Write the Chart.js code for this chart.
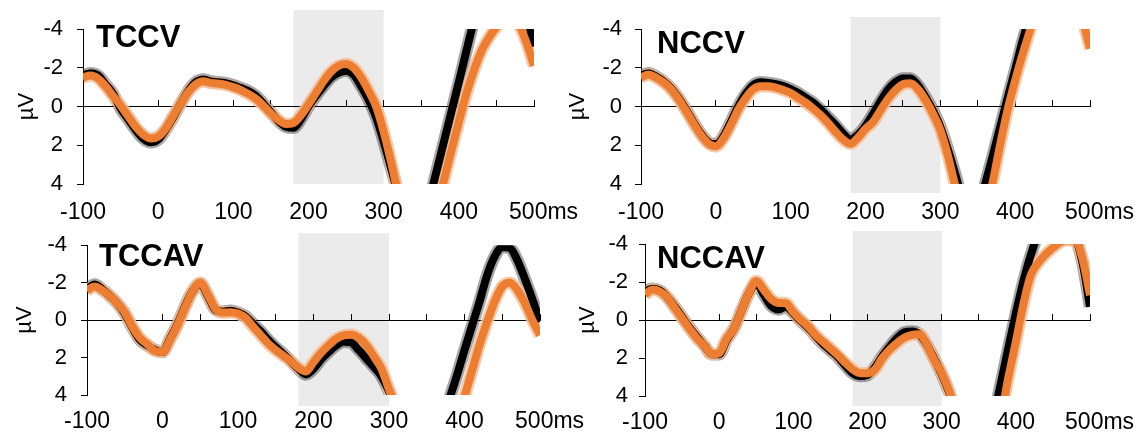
<!DOCTYPE html>
<html>
<head>
<meta charset="utf-8">
<script src="https://cdn.jsdelivr.net/npm/chart.js@4.4.1/dist/chart.umd.min.js"></script>
<style>
  body { margin: 0; background: #fff; width: 1146px; height: 436px; overflow: hidden; position: relative; font-family: "Liberation Sans", Arial, sans-serif; }
  canvas { position: absolute; }
  .name { position: absolute; font-weight: bold; font-size: 31px; line-height: 31px; color: #000; white-space: nowrap; }
</style>
</head>
<body>
<canvas id="tccv" width="580" height="230" style="left:0;top:0;width:580px;height:230px"></canvas>
<canvas id="nccv" width="593" height="230" style="left:553px;top:0;width:593px;height:230px"></canvas>
<canvas id="tccav" width="600" height="218" style="left:0;top:218px;width:600px;height:218px"></canvas>
<canvas id="nccav" width="593" height="218" style="left:553px;top:218px;width:593px;height:218px"></canvas>
<div class="name" style="left:96px;top:21px">TCCV</div>
<div class="name" style="left:657px;top:27px">NCCV</div>
<div class="name" style="left:99px;top:240px">TCCAV</div>
<div class="name" style="left:657px;top:242px">NCCAV</div>
<script>
// time points (ms), one every 10 ms
const times = [-100, -90, -80, -70, -60, -50, -40, -30, -20, -10,
    0, 10, 20, 30, 40, 50, 60, 70, 80, 90,
    100, 110, 120, 130, 140, 150, 160, 170, 180, 190,
    200, 210, 220, 230, 240, 250, 260, 270, 280, 290,
    300, 310, 320, 330, 340, 350, 360, 370, 380, 390,
    400, 410, 420, 430, 440, 450, 460, 470, 480, 490, 500];

const yTicks = [-4, -2, 0, 2, 4];
const shadeWindow = [180, 300];

// amplitudes in µV
const tccvBlack = [-1.6, -1.72, -1.6, -1.15, -0.65, 0.1, 0.65, 1.2, 1.65, 1.85,
    1.7, 1.2, 0.55, -0.15, -0.8, -1.25, -1.4, -1.3, -1.25, -1.2,
    -1.1, -0.95, -0.8, -0.55, -0.15, 0.3, 0.75, 1.05, 1.1, 0.65,
    0.0, -0.55, -1.05, -1.5, -1.75, -1.85, -1.65, -1.05, -0.35, 0.55,
    1.8, 3.2, 4.6, 5.9, 6.4, 6.0, 4.9, 3.4, 1.85, 0.3,
    -1.25, -2.85, -4.4, -5.6, -6.5, -7.0, -7.1, -6.8, -6.0, -4.8, -3.1];
const tccvOrange = [-1.5, -1.6, -1.45, -1.05, -0.55, -0.05, 0.5, 1.05, 1.45, 1.65,
    1.55, 1.15, 0.5, -0.15, -0.75, -1.15, -1.3, -1.22, -1.18, -1.12,
    -1.0, -0.85, -0.65, -0.4, -0.05, 0.35, 0.7, 0.9, 0.85, 0.45,
    -0.1, -0.7, -1.3, -1.8, -2.1, -2.2, -2.0, -1.5, -0.8, 0.0,
    1.3, 2.9, 4.6, 6.0, 6.7, 6.8, 6.4, 5.4, 3.85, 2.3,
    0.8, -0.65, -1.85, -2.85, -3.55, -4.1, -4.45, -4.5, -4.2, -3.3, -2.1];

const nccvBlack = [-1.6, -1.72, -1.55, -1.3, -0.95, -0.45, 0.15, 0.8, 1.4, 1.85,
    1.95, 1.55, 0.8, 0.0, -0.65, -1.1, -1.25, -1.22, -1.15, -1.05,
    -0.9, -0.7, -0.45, -0.2, 0.15, 0.55, 0.95, 1.4, 1.7, 1.45,
    1.0, 0.4, -0.25, -0.85, -1.25, -1.45, -1.45, -1.1, -0.5, 0.2,
    1.05, 2.2, 3.5, 4.9, 5.7, 5.4, 4.0, 2.55, 1.05, -0.45,
    -1.9, -3.4, -4.7, -5.9, -6.8, -7.4, -7.6, -7.5, -7.1, -6.5, -5.6];
const nccvOrange = [-1.5, -1.65, -1.5, -1.25, -0.9, -0.4, 0.2, 0.85, 1.45, 1.9,
    2.05, 1.65, 0.95, 0.15, -0.45, -0.9, -1.05, -1.05, -0.98, -0.85,
    -0.7, -0.45, -0.2, 0.1, 0.45, 0.85, 1.3, 1.7, 1.92, 1.6,
    1.15, 0.8, 0.2, -0.4, -0.85, -1.15, -1.2, -0.9, -0.35, 0.35,
    1.2, 2.5, 4.1, 5.5, 6.4, 6.5, 5.6, 3.9, 1.95, 0.15,
    -1.35, -2.7, -3.95, -5.1, -6.0, -6.6, -7.0, -6.9, -6.0, -4.5, -3.0];

const tccavBlack = [-1.65, -1.9, -1.65, -1.3, -0.9, -0.35, 0.4, 1.05, 1.35, 1.6,
    1.7, 1.0, 0.2, -0.75, -1.55, -1.95, -1.3, -0.55, -0.45, -0.5,
    -0.4, -0.2, 0.2, 0.6, 1.05, 1.45, 1.8, 2.2, 2.6, 2.9,
    2.6, 2.1, 1.7, 1.35, 1.15, 1.2, 1.6, 2.05, 2.5, 3.0,
    3.8, 4.7, 5.5, 6.0, 6.2, 6.2, 6.0, 5.4, 4.2, 2.95,
    1.6, 0.3, -1.0, -2.4, -3.4, -3.9, -3.85, -3.2, -2.2, -1.1, 0.1];
const tccavOrange = [-1.6, -1.8, -1.6, -1.3, -0.9, -0.4, 0.35, 0.95, 1.3, 1.65,
    1.7, 1.05, 0.25, -0.7, -1.55, -2.0, -1.35, -0.6, -0.4, -0.42,
    -0.35, -0.12, 0.35, 0.8, 1.25, 1.6, 1.9, 2.2, 2.55, 2.75,
    2.25, 1.75, 1.35, 1.0, 0.82, 0.78, 0.95, 1.35, 1.95, 2.6,
    3.7, 4.8, 5.6, 6.2, 6.6, 6.8, 6.8, 6.6, 6.3, 5.4,
    4.1, 2.7, 1.3, 0.1, -1.0, -1.8, -2.0, -1.6, -0.9, 0.0, 0.8];

const nccavBlack = [-1.5, -1.65, -1.55, -1.2, -0.7, -0.15, 0.4, 0.9, 1.35, 1.8,
    1.8, 1.05, 0.45, -0.5, -1.4, -1.95, -1.35, -0.75, -0.55, -0.7,
    -0.35, 0.05, 0.4, 0.85, 1.25, 1.6, 1.95, 2.4, 2.8, 2.95,
    2.9, 2.5, 1.9, 1.4, 0.95, 0.65, 0.6, 0.75, 1.3, 2.05,
    2.85, 3.8, 5.0, 5.8, 6.2, 6.2, 5.8, 5.0, 3.3, 1.45,
    -0.35, -2.0, -3.4, -4.5, -5.1, -5.3, -5.3, -5.0, -4.4, -3.0, -0.7];
const nccavOrange = [-1.35, -1.6, -1.5, -1.2, -0.65, -0.1, 0.45, 0.95, 1.35, 1.8,
    1.75, 1.0, 0.45, -0.5, -1.4, -2.05, -1.6, -1.1, -0.9, -0.88,
    -0.4, 0.0, 0.35, 0.8, 1.15, 1.5, 1.85, 2.25, 2.6, 2.8,
    2.8, 2.6, 2.0, 1.55, 1.2, 0.92, 0.78, 0.75, 1.3, 2.1,
    2.8, 3.75, 5.0, 5.9, 6.4, 6.6, 6.6, 6.2, 5.0, 3.0,
    1.15, -0.8, -2.35, -3.0, -3.45, -3.8, -4.1, -4.2, -4.15, -3.2, -1.3];

const orange = '#ed7d31';
const orangeBand = 'rgba(246, 190, 150, 0.85)';
const blackBand = 'rgba(0, 0, 0, 0.35)';

// gray time window, drawn before the axes so the zero line stays on top
const shadePlugin = {
    id: 'shade',
    beforeDraw(chart, args, opts) {
        const {ctx, chartArea, scales} = chart;
        const left = scales.x.getPixelForValue(shadeWindow[0]);
        const right = scales.x.getPixelForValue(shadeWindow[1]);
        ctx.save();
        ctx.fillStyle = '#ebebeb';
        ctx.fillRect(left, chartArea.top - opts.above, right - left,
            chartArea.bottom - chartArea.top + opts.above + opts.below);
        ctx.restore();
    }
};

function points(values) {
    return times.map((t, i) => ({x: t, y: values[i]}));
}

// keep the plot area where the layout padding puts it
function noLabelPadding(s) {
    s.paddingLeft = 0;
    s.paddingRight = 0;
}

function drawPanel(id, black, orangeVals, box) {
    const ctx = document.getElementById(id).getContext('2d');
    return new Chart(ctx, {
        type: 'line',
        data: {
            datasets: [
                {data: points(orangeVals), borderColor: orange, borderWidth: 8},
                {data: points(black), borderColor: '#000', borderWidth: 8},
                {data: points(orangeVals), borderColor: orangeBand, borderWidth: 12.5},
                {data: points(black), borderColor: blackBand, borderWidth: 12.5}
            ]
        },
        options: {
            responsive: false,
            animation: false,
            layout: {padding: {left: 0, right: box.right, top: box.top, bottom: 0}},
            elements: {
                point: {radius: 0},
                line: {cubicInterpolationMode: 'monotone', borderCapStyle: 'butt', borderJoinStyle: 'round', fill: false}
            },
            datasets: {line: {clip: 0}},
            plugins: {
                legend: {display: false},
                tooltip: {enabled: false},
                shade: {above: box.above, below: box.below}
            },
            scales: {
                x: {
                    type: 'linear',
                    min: -100,
                    max: 500,
                    position: 'bottom',
                    grid: {display: false, drawTicks: false},
                    border: {display: false},
                    ticks: {
                        stepSize: 100,
                        autoSkip: false,
                        padding: box.xPad,
                        color: '#000',
                        maxRotation: 0,
                        font: {family: 'Liberation Sans', size: 23},
                        // the unit sits a little to the right of the last tick
                        callback: v => v === 500 ? '   500ms' : String(v)
                    },
                    afterFit: s => { s.height = box.xh; noLabelPadding(s); }
                },
                x0: {
                    axis: 'x',
                    type: 'linear',
                    min: -100,
                    max: 500,
                    position: {y: 0},
                    grid: {drawOnChartArea: false, drawTicks: true, tickLength: -7, color: '#000', lineWidth: 1},
                    border: {display: true, color: '#000', width: 1},
                    ticks: {display: false, stepSize: 50, autoSkip: false},
                    afterFit: noLabelPadding
                },
                y: {
                    reverse: true,
                    min: -4,
                    max: 4,
                    afterBuildTicks: s => { s.ticks = yTicks.map(v => ({value: v})); },
                    grid: {drawOnChartArea: false, drawTicks: true, tickLength: 6, color: '#000', lineWidth: 1},
                    border: {display: true, color: '#000', width: 1},
                    ticks: {
                        padding: box.yPad,
                        color: '#000',
                        font: {family: 'Liberation Sans', size: 22}
                    },
                    title: {
                        display: true,
                        text: 'µV',
                        color: '#000',
                        font: {family: 'Liberation Sans', size: 22},
                        padding: {top: box.titlePad, bottom: 0}
                    },
                    afterFit: s => { s.width = box.yw; }
                }
            }
        },
        plugins: [shadePlugin]
    });
}

drawPanel('tccv', tccvBlack, tccvOrange,
    {yw: 83, right: 46, top: 29, xh: 46, xPad: 15, yPad: 14, titlePad: 14, above: 19, below: 0});
drawPanel('nccv', nccvBlack, nccvOrange,
    {yw: 88, right: 56, top: 29, xh: 46, xPad: 15, yPad: 13, titlePad: 11.5, above: 12, below: 9});
drawPanel('tccav', tccavBlack, tccavOrange,
    {yw: 87, right: 60, top: 25, xh: 41, xPad: 13, yPad: 14, titlePad: 11.5, above: 12, below: 11});
drawPanel('nccav', nccavBlack, nccavOrange,
    {yw: 92, right: 56, top: 26, xh: 40, xPad: 13, yPad: 11, titlePad: 22, above: 13, below: 10});
</script>
</body>
</html>
